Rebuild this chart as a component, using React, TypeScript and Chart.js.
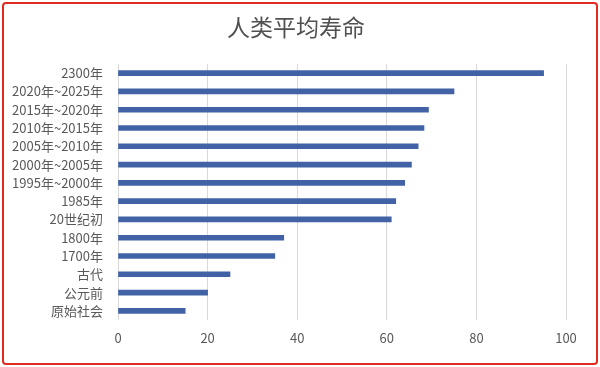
import React, { useEffect, useRef } from "react";
import { Chart, registerables } from "chart.js";

Chart.register(...registerables);

const title = "人类平均寿命";
const categories = [
  "2300年",
  "2020年~2025年",
  "2015年~2020年",
  "2010年~2015年",
  "2005年~2010年",
  "2000年~2005年",
  "1995年~2000年",
  "1985年",
  "20世纪初",
  "1800年",
  "1700年",
  "古代",
  "公元前",
  "原始社会",
];
const lifeExpectancy = [95, 75, 69.3, 68.3, 67, 65.5, 64, 62, 61, 37, 35, 25, 20, 15];
const xMin = 0;
const xMax = 100;
const xStep = 20;

const FONT = "'Noto Sans CJK SC', 'Noto Sans', sans-serif";

const titlePlugin = {
  id: "centerTitle",
  afterDraw(chart: any) {
    const c = chart.ctx;
    c.save();
    c.font = `23px ${FONT}`;
    c.fillStyle = "#505050";
    c.textAlign = "center";
    c.textBaseline = "middle";
    c.fillText(title, 296, 27);
    c.restore();
  },
};

export default function App() {
  const ref = useRef<HTMLCanvasElement | null>(null);

  useEffect(() => {
    document.body.style.margin = "0";
    const ctx = ref.current!.getContext("2d")!;
    const chart = new Chart(ctx, {
      type: "bar",
      data: {
        labels: categories,
        datasets: [
          {
            data: lifeExpectancy,
            backgroundColor: "#4262a6",
            barThickness: 5,
          },
        ],
      },
      options: {
        indexAxis: "y",
        animation: false,
        responsive: false,
        maintainAspectRatio: false,
        layout: { padding: { left: 0, right: 34, top: 64, bottom: 17 } },
        plugins: {
          legend: { display: false },
          tooltip: { enabled: false },
          title: { display: false },
        },
        scales: {
          x: {
            min: xMin,
            max: xMax,
            ticks: {
              stepSize: xStep,
              color: "#595959",
              font: { family: FONT, size: 13 },
              padding: 10,
            },
            grid: { color: "#d9d9d9", drawTicks: false },
            border: { display: false },
            afterFit: (s: any) => {
              s.height = 30;
            },
          },
          y: {
            ticks: {
              color: "#595959",
              font: { family: FONT, size: 13 },
              padding: 15,
              autoSkip: false,
            },
            grid: { display: false, drawTicks: false },
            border: { display: false },
            afterFit: (s: any) => {
              s.width = 118;
            },
          },
        },
      },
      plugins: [titlePlugin],
    });
    return () => chart.destroy();
  }, []);

  return (
    <div style={{ position: "relative", width: 600, height: 367, background: "#fff" }}>
      <canvas ref={ref} width={600} height={367} style={{ display: "block" }} />
      <div
        style={{
          position: "absolute",
          left: 2,
          top: 2,
          width: 596,
          height: 363,
          boxSizing: "border-box",
          border: "2px solid #e02b20",
          borderRadius: 4,
          pointerEvents: "none",
        }}
      />
    </div>
  );
}
